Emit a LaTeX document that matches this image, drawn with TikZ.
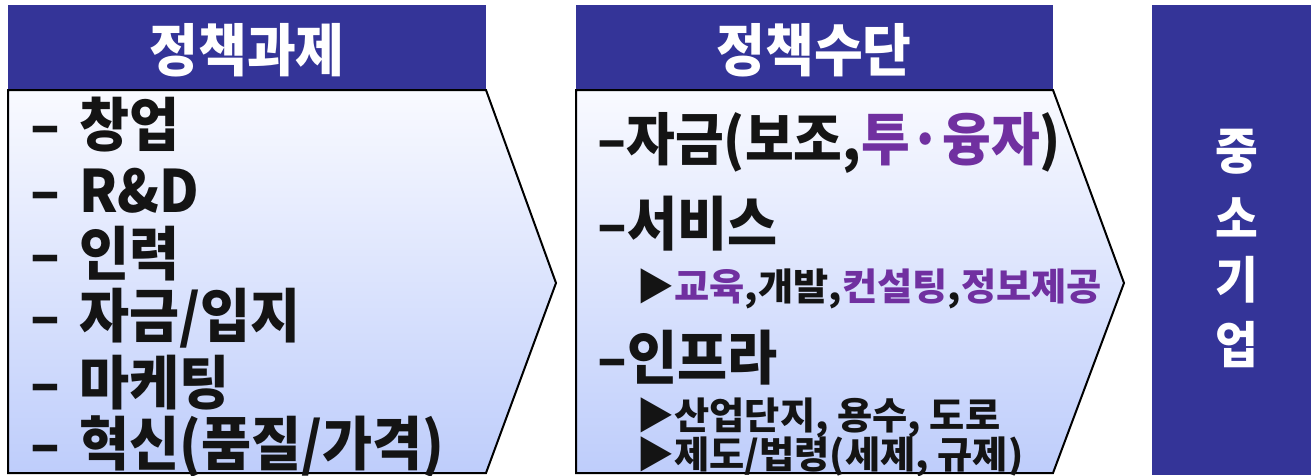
\documentclass[tikz,border=0pt]{standalone}
\usepackage{fontspec}
\newfontfamily\kr{Noto Sans CJK KR}[FakeStretch=0.93]
\newfontfamily\krwide{Noto Sans CJK KR}[FakeStretch=1.02]
\definecolor{navy}{RGB}{52,52,152}
\definecolor{purp}{RGB}{112,48,160}
\definecolor{gtop}{RGB}{249,250,255}
\definecolor{gbot}{RGB}{190,205,251}
\begin{document}
\begin{tikzpicture}[x=1pt,y=-1pt,
  bodybox/.style={draw=black,line width=2pt,line join=miter,top color=gtop,bottom color=gbot},
  hdrbox/.style={fill=navy,draw=none},
  hdrtext/.style={text=white,inner sep=0,font=\kr\bfseries\fontsize{57}{60}\selectfont},
  bigline/.style={anchor=west,inner sep=0,text=black!92,font=\kr\bfseries\fontsize{58.5}{62}\selectfont},
  smallline/.style={anchor=west,inner sep=0,text=black!92,font=\krwide\bfseries\fontsize{37.5}{40}\selectfont},
  vtext/.style={text=white,inner sep=0,font=\kr\bfseries\fontsize{50}{54}\selectfont}]
\useasboundingbox (0,0) rectangle (1311,475);
% left column
\path[hdrbox] (8,5) rectangle (486,90);
\path[bodybox] (8,90) -- (486,90) -- (556,283) -- (486,473) -- (8,473) -- cycle;
\node[hdrtext] (h1) at (247,50) {정책과제};
\node[bigline] (l1) at (30,125) {\makebox[49pt][l]{–}창업};
\node[bigline] (l2) at (30,191) {\makebox[49pt][l]{–}R\&D};
\node[bigline] (l3) at (30,254) {\makebox[49pt][l]{–}인력};
\node[bigline] (l4) at (30,318) {\makebox[49pt][l]{–}자금/입지};
\node[bigline] (l5) at (30,383) {\makebox[49pt][l]{–}마케팅};
\node[bigline] (l6) at (30,447) {\makebox[49pt][l]{–}혁신(품질/가격)};
% middle column
\path[hdrbox] (576,5) rectangle (1053,90);
\path[bodybox] (576,90) -- (1053,90) -- (1124,283) -- (1053,473) -- (576,473) -- cycle;
\node[hdrtext] (h2) at (814,50) {정책수단};
\node[bigline,font=\kr\bfseries\fontsize{57}{60}\selectfont] (m1) at (597,143) {–자금(보조,\textcolor{purp}{투·융자})};
\node[bigline] (m2) at (597,224) {–서비스};
\node[smallline] (m3) at (636,289) {▶\textcolor{purp}{교육},개발,\textcolor{purp}{컨설팅},\textcolor{purp}{정보제공}};
\node[bigline] (m4) at (597,358) {–인프라};
\node[smallline] (m5) at (636,418) {▶산업단지, 용수, 도로};
\node[smallline] (m6) at (636,457) {▶제도/법령(세제, 규제)};
% right column
\path[hdrbox] (1152,5) rectangle (1311,475);
\node[vtext] (v1) at (1237,152) {중};
\node[vtext] (v2) at (1237,218) {소};
\node[vtext] (v3) at (1237,280) {기};
\node[vtext] (v4) at (1237,345) {업};
\end{tikzpicture}
\end{document}
